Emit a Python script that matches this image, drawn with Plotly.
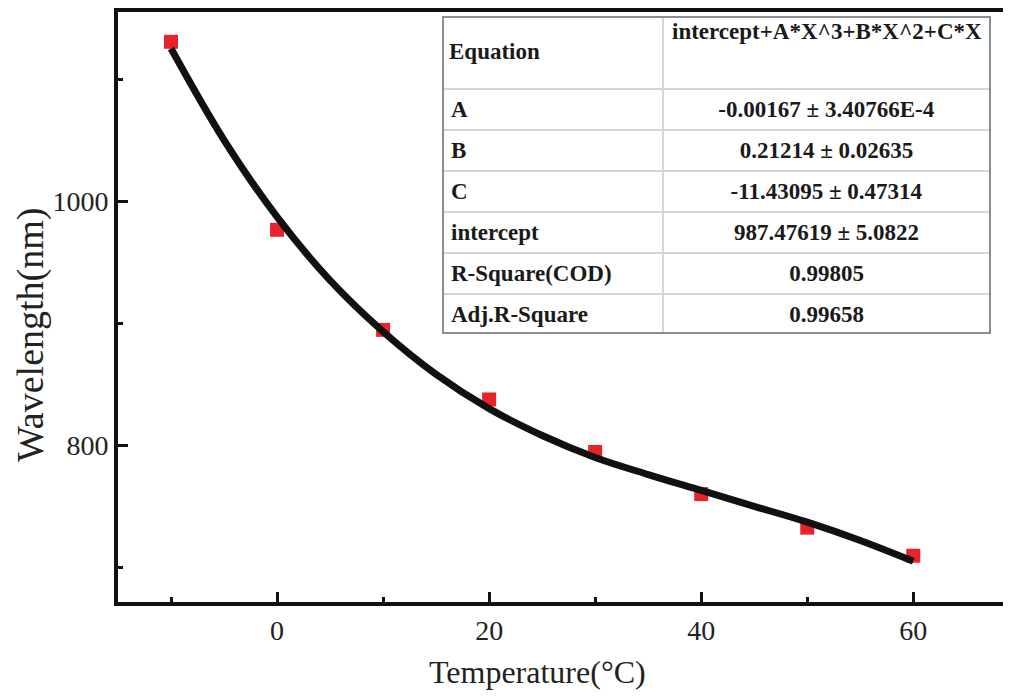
import plotly.graph_objects as go

# measured data
temps = [-10, 0, 10, 20, 30, 40, 50, 60]
wavelengths = [1130.5, 976.5, 894.5, 837.5, 794.5, 760.0, 732.5, 709.5]

# fitted curve
fit_x = [-10, -5, 0, 5, 10, 15, 20, 25, 30, 35, 40, 45, 50, 55, 60]
fit_y = [1125, 1050, 987, 935, 893, 858, 830, 808, 790, 776, 763, 750, 737, 722, 705]

# fit table
row_labels = ["A", "B", "C", "intercept", "R-Square(COD)", "Adj.R-Square"]
row_values = ["-0.00167 ± 3.40766E-4", "0.21214 ± 0.02635", "-11.43095 ± 0.47314",
              "987.47619 ± 5.0822", "0.99805", "0.99658"]
header_label = "Equation"
header_value = "intercept+A*X^3+B*X^2+C*X"

x_major = [0, 20, 40, 60]
x_minor = [-10, 10, 30, 50]
y_major = [800, 1000]
y_minor = [700, 900, 1100]

SERIF = "Liberation Serif, Times New Roman, serif"

# page geometry (the page body has an 8px margin)
OFF = 8
FIG_W, FIG_H = 1011 - 2 * OFF, 700 - 2 * OFF
PL, PR, PT, PB = 118, 1003, 8, 601.7       # plot area in page pixels
W, H = PR - PL, PB - PT


def px(x):
    return (x - PL) / W


def py(y):
    return (PB - y) / H


fig = go.Figure()
fig.add_trace(go.Scatter(x=temps, y=wavelengths, mode="markers",
                         marker=dict(symbol="square", size=14, color="#e8232a"),
                         showlegend=False))
fig.add_trace(go.Scatter(x=fit_x, y=fit_y, mode="lines", line_shape="spline",
                         line=dict(color="#111111", width=7), showlegend=False))

tx0, tx1 = px(443), px(990)
ty1, ty0 = py(13), py(331)

fig.add_trace(go.Table(
    domain=dict(x=[tx0, tx1], y=[ty0, ty1]),
    columnwidth=[220, 327],
    header=dict(values=["", ""], height=72, align=["left", "center"],
                fill_color="white", line=dict(color="#d3d6dd", width=1.5),
                font=dict(family=SERIF, size=23, color="#1a1a1a")),
    cells=dict(values=[["<b>" + v + "</b>" for v in row_labels],
                       ["<b>" + v + "</b>" for v in row_values]],
               height=41, align=["left", "center"],
               fill_color="white", line=dict(color="#d3d6dd", width=1.5),
               font=dict(family=SERIF, size=23, color="#1a1a1a")),
))

fig.add_shape(type="rect", xref="paper", yref="paper", x0=tx0, x1=tx1, y0=ty0, y1=ty1,
              line=dict(color="#8a8d92", width=2))

tfont = dict(family=SERIF, size=23, color="#1a1a1a")
fig.add_annotation(text="<b>" + header_label + "</b>", xref="paper", yref="paper",
                   x=px(447), y=py(48), xanchor="left", yanchor="middle",
                   showarrow=False, font=tfont)
fig.add_annotation(text="<b>" + header_value + "</b>", xref="paper", yref="paper",
                   x=px(826.5), y=py(28), xanchor="center", yanchor="middle",
                   showarrow=False, font=tfont)

# axis titles
fig.add_annotation(text="Temperature(°C)", xref="paper", yref="paper",
                   x=px(537), y=py(672), xanchor="center", yanchor="middle",
                   showarrow=False, font=dict(family=SERIF, size=32, color="#222"))
fig.add_annotation(text="Wavelength(nm)", xref="paper", yref="paper", textangle=-90,
                   x=px(31), y=py(333), xanchor="center", yanchor="middle",
                   showarrow=False, font=dict(family=SERIF, size=38, color="#222"))

fig.update_layout(
    width=FIG_W, height=FIG_H,
    margin=dict(l=PL - OFF, r=0, t=PT - OFF, b=FIG_H - (PB - OFF)),
    paper_bgcolor="white", plot_bgcolor="white",
    font=dict(family=SERIF, color="#222222"),
    xaxis=dict(range=[-15.0, 68.46], tickvals=x_major, ticks="inside", ticklen=10, tickwidth=3,
               tickcolor="#111", showline=True, linewidth=4, linecolor="#111", mirror=True,
               showgrid=False, zeroline=False,
               tickfont=dict(family=SERIF, size=28, color="#222"),
               minor=dict(tickvals=x_minor, ticks="inside", ticklen=5, tickwidth=3,
                          tickcolor="#111")),
    yaxis=dict(range=[671.6, 1154.9], tickvals=y_major, ticks="inside", ticklen=10, tickwidth=3,
               tickcolor="#111", showline=True, linewidth=4, linecolor="#111",
               showgrid=False, zeroline=False,
               tickfont=dict(family=SERIF, size=28, color="#222"),
               minor=dict(tickvals=y_minor, ticks="inside", ticklen=5, tickwidth=3,
                          tickcolor="#111")),
)

fig.write_html("out.html")
